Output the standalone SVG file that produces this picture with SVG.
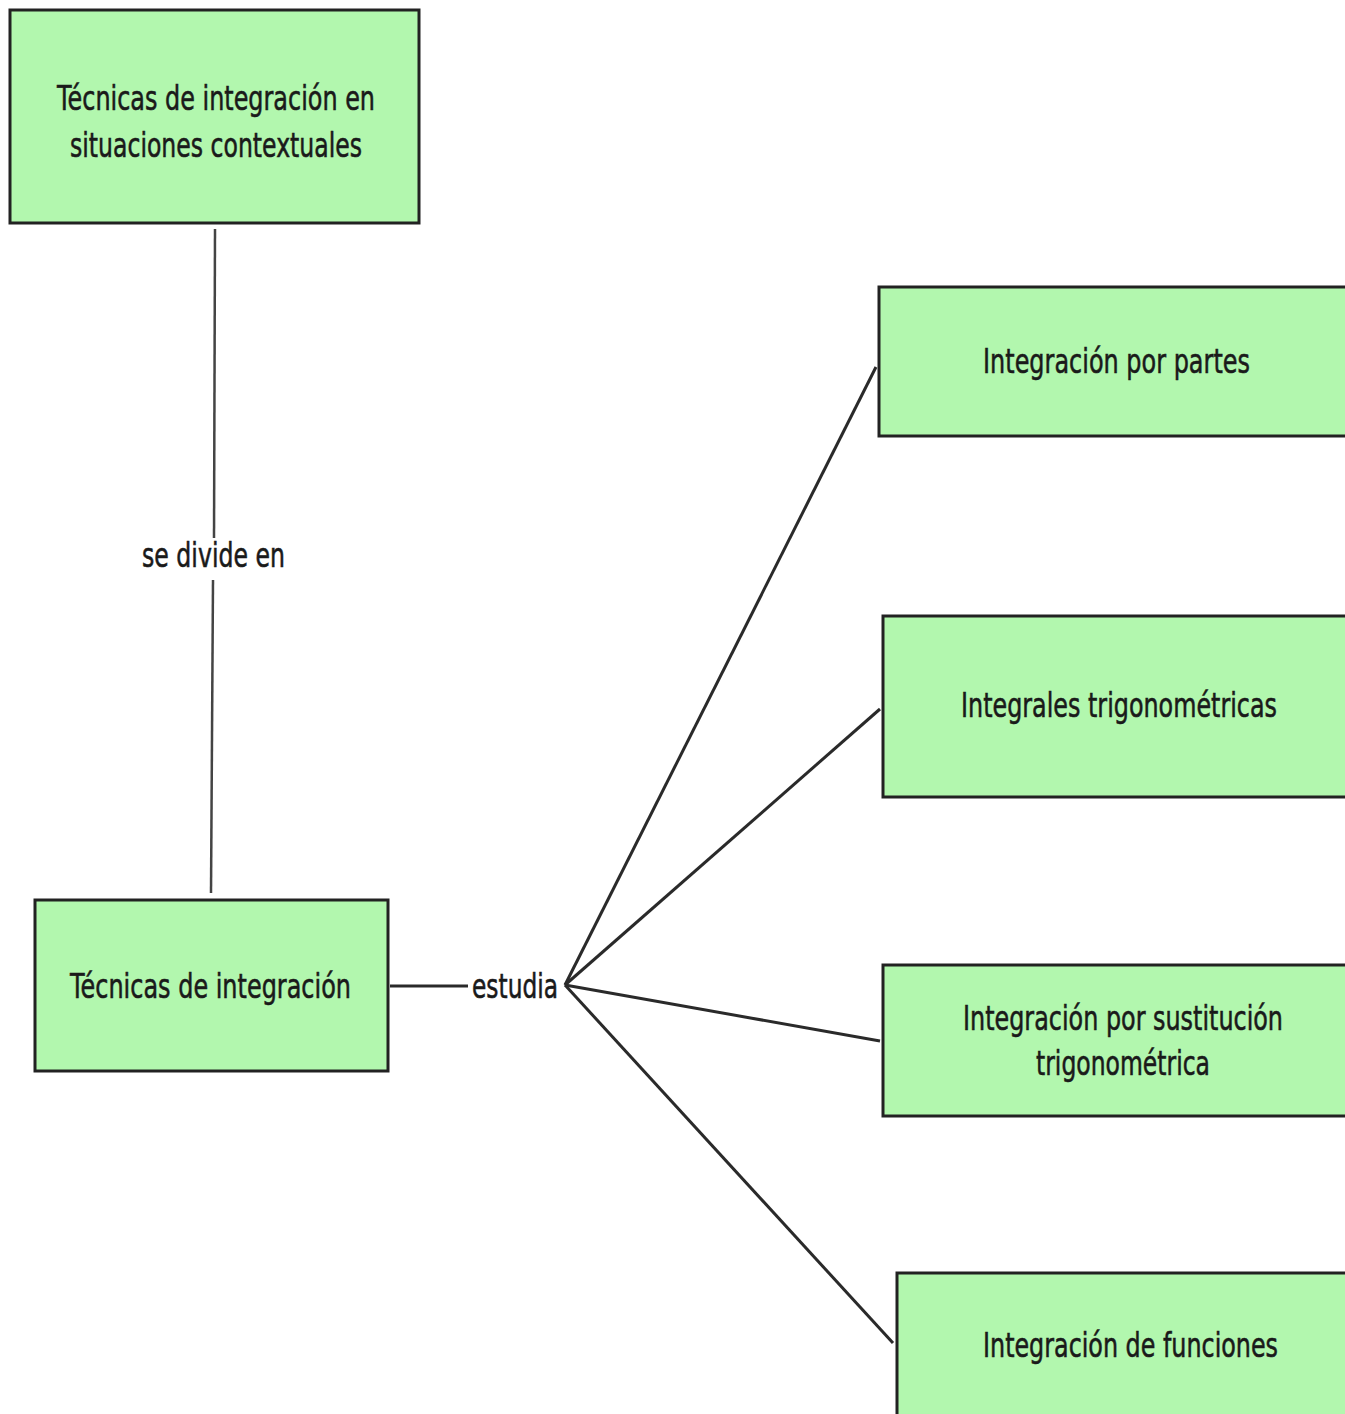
<svg xmlns="http://www.w3.org/2000/svg" width="1345" height="1414" viewBox="0 0 1345 1414">
<style>
.box{fill:#b2f7ae;stroke:#222;stroke-width:3}
.t{font-family:"DejaVu Sans","Liberation Sans",sans-serif;font-size:34px;fill:#1a1a1a;stroke:#1a1a1a;stroke-width:0.6}
.c{stroke:#2a2a2a;stroke-width:3;fill:none}
.l{stroke:#444;stroke-width:2.5;fill:none}
</style>
<rect width="1345" height="1414" fill="#fff"/>
<g id="connectors">
<line class="l" x1="215" y1="229" x2="214" y2="538"/>
<line class="l" x1="213" y1="580" x2="211" y2="893"/>
<line class="c" x1="390" y1="986" x2="468" y2="986"/>
<line class="c" x1="565" y1="985" x2="876" y2="367"/>
<line class="c" x1="565" y1="985" x2="880" y2="709"/>
<line class="c" x1="565" y1="985" x2="880" y2="1041"/>
<line class="c" x1="565" y1="985" x2="893" y2="1343"/>
<text class="t" x="142" y="567" textLength="143" lengthAdjust="spacingAndGlyphs">se divide en</text>
<text class="t" x="472" y="998" textLength="86" lengthAdjust="spacingAndGlyphs">estudia</text>
</g>
<g id="n1">
<rect class="box" x="10" y="10" width="409" height="213"/>
<text class="t" x="57" y="110" textLength="318" lengthAdjust="spacingAndGlyphs">Técnicas de integración en</text>
<text class="t" x="70" y="157" textLength="292" lengthAdjust="spacingAndGlyphs">situaciones contextuales</text>
</g>
<g id="n2">
<rect class="box" x="35" y="900" width="353" height="171"/>
<text class="t" x="70" y="998" textLength="281" lengthAdjust="spacingAndGlyphs">Técnicas de integración</text>
</g>
<g id="n3">
<rect class="box" x="879" y="287" width="470" height="149"/>
<text class="t" x="983" y="373" textLength="267" lengthAdjust="spacingAndGlyphs">Integración por partes</text>
</g>
<g id="n4">
<rect class="box" x="883" y="616" width="466" height="181"/>
<text class="t" x="961" y="717" textLength="316" lengthAdjust="spacingAndGlyphs">Integrales trigonométricas</text>
</g>
<g id="n5">
<rect class="box" x="883" y="965" width="466" height="151"/>
<text class="t" x="963" y="1030" textLength="320" lengthAdjust="spacingAndGlyphs">Integración por sustitución</text>
<text class="t" x="1036" y="1075" textLength="174" lengthAdjust="spacingAndGlyphs">trigonométrica</text>
</g>
<g id="n6">
<rect class="box" x="897" y="1273" width="452" height="150"/>
<text class="t" x="983" y="1357" textLength="295" lengthAdjust="spacingAndGlyphs">Integración de funciones</text>
</g>
</svg>
